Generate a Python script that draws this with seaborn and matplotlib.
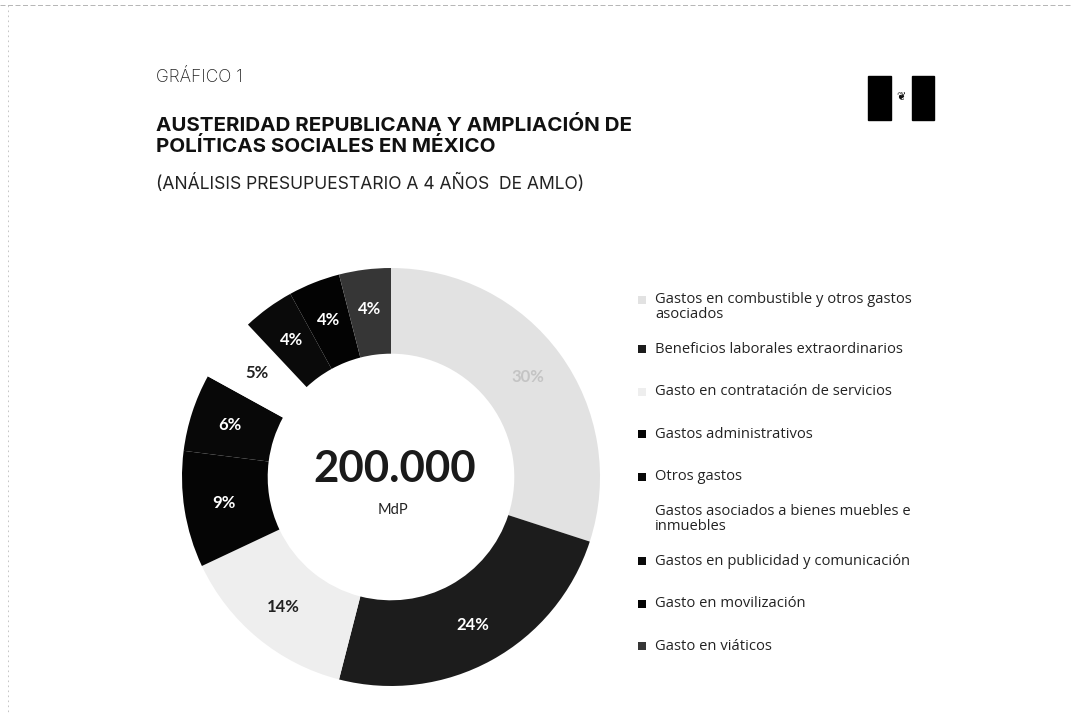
import matplotlib
matplotlib.use('Agg')
import matplotlib.pyplot as plt
import seaborn as sns
import numpy as np
from matplotlib.patches import Rectangle
from matplotlib.lines import Line2D

# Data
categorias = [
    'Gastos en combustible y otros gastos\nasociados',
    'Beneficios laborales extraordinarios',
    'Gasto en contratación de servicios',
    'Gastos administrativos',
    'Otros gastos',
    'Gastos asociados a bienes muebles e\ninmuebles',
    'Gastos en publicidad y comunicación',
    'Gasto en movilización',
    'Gasto en viáticos',
]
porcentajes = [30, 24, 14, 9, 6, 5, 4, 4, 4]
total_mdp = '200.000'

colores = ['#e2e2e2', '#1c1c1c', '#eeeeee', '#050505', '#080808',
           '#ffffff', '#0a0a0a', '#030303', '#363636']
color_etiqueta = ['#c4c4c4', 'white', '#222222', 'white', 'white',
                  '#222222', 'white', 'white', 'white']

sns.set_style('white')
plt.rcParams['font.family'] = ['Lato', 'DejaVu Sans']

fig = plt.figure(figsize=(10.72, 7.17), dpi=100)
W, H = 1072, 717


def fx(px):
    return px / W


def fy(py):
    return 1 - py / H


# Titles
fig.text(fx(156), fy(77), 'GRÁFICO 1', family='Inter', fontsize=12.5,
         fontweight='light', color='#222222', va='center', ha='left')
fig.text(fx(156), fy(136), 'AUSTERIDAD REPUBLICANA Y AMPLIACIÓN DE\nPOLÍTICAS SOCIALES EN MÉXICO',
         family='Inter', fontsize=14.8, fontweight='bold', color='#111111',
         va='center', ha='left', linespacing=1.1)
fig.text(fx(156), fy(183), '(ANÁLISIS PRESUPUESTARIO A 4 AÑOS  DE AMLO)', family='Inter',
         fontsize=12.6, color='#222222', va='center', ha='left')

# Flag-like logo
fig.add_artist(Rectangle((fx(868), fy(120)), fx(23), 44 / H, color='black', transform=fig.transFigure))
fig.add_artist(Rectangle((fx(912), fy(120)), fx(22), 44 / H, color='black', transform=fig.transFigure))
fig.text(fx(901), fy(97), '❦', fontsize=8, color='#111111', ha='center', va='center',
         family=['DejaVu Sans'])

# scanned page borders
fig.add_artist(Line2D([0, 1], [fy(5), fy(5)], color='#aaaaaa', lw=0.6, ls=(0, (6, 3)),
                      transform=fig.transFigure))
fig.add_artist(Line2D([fx(8), fx(8)], [fy(5), fy(712)], color='#bbbbbb', lw=0.6, ls=(0, (2, 4)),
                      transform=fig.transFigure))

# Donut
cx, cy, r = 391, 477, 209
ax = fig.add_axes([fx(cx - r), fy(cy + r), 2 * r / W, 2 * r / H])
wedges, _ = ax.pie(porcentajes, colors=colores, startangle=90, counterclock=False,
                   radius=1, wedgeprops=dict(width=0.41, linewidth=0))
ax.set_xlim(-1, 1)
ax.set_ylim(-1, 1)
ax.set_aspect('equal')
ax.axis('off')

for w, p, c in zip(wedges, porcentajes, color_etiqueta):
    ang = np.deg2rad((w.theta1 + w.theta2) / 2)
    ax.text(0.81 * np.cos(ang), 0.81 * np.sin(ang), f'{p}%', ha='center', va='center',
            fontsize=12, fontweight='bold', color=c)

ax.text(0.02, 0.04, total_mdp, ha='center', va='center', fontsize=31.5, fontweight='bold',
        color='#1a1a1a')
ax.text(0.01, -0.16, 'MdP', ha='center', va='center', fontsize=10.5, color='#222222')

# Legend
y0, paso = 307, 42.4
for i, (cat, col) in enumerate(zip(categorias, colores)):
    yc = y0 + i * paso
    nl = cat.count('\n') + 1
    fig.text(fx(655), fy(yc), cat, family='Open Sans', fontsize=10.6, color='#222222',
             ha='left', va='center', linespacing=0.95)
    if col != '#ffffff':
        ym = yc - (nl - 1) * 7.5
        fig.add_artist(Rectangle((fx(638), fy(ym + 4)), fx(8), 8 / H, facecolor=col,
                                 edgecolor='none', transform=fig.transFigure))

fig.savefig('out.png', dpi=100, facecolor='white')
